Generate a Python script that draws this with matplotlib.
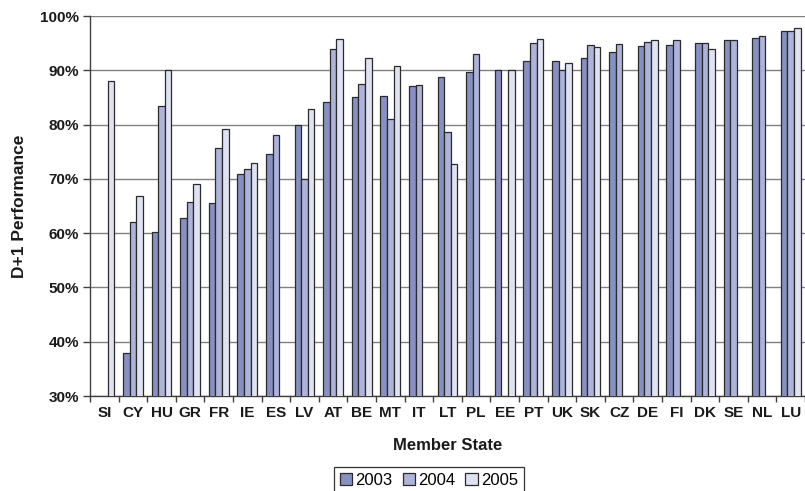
import numpy as np
import matplotlib
matplotlib.use("Agg")
import matplotlib.pyplot as plt
from matplotlib.ticker import FixedLocator, PercentFormatter

plt.rcParams["font.family"] = ["Liberation Sans", "DejaVu Sans"]

states = ["SI", "CY", "HU", "GR", "FR", "IE", "ES", "LV", "AT", "BE", "MT", "IT", "LT",
          "PL", "EE", "PT", "UK", "SK", "CZ", "DE", "FI", "DK", "SE", "NL", "LU"]

nan = np.nan
perf_2003 = [nan, 38.0, 60.3, 62.8, 65.6, 70.9, 74.5, 80.0, 84.1, 85.0, 85.2, 87.1, 88.8,
             89.7, 90.0, 91.7, 91.7, 92.3, 93.4, 94.5, 94.7, 95.1, 95.6, 96.0, 97.2]
perf_2004 = [nan, 62.0, 83.4, 65.8, 75.7, 71.9, 78.0, 70.0, 93.9, 87.4, 81.0, 87.2, 78.6,
             93.0, nan, 95.1, 90.1, 94.6, 94.8, 95.2, 95.6, 95.1, 95.5, 96.4, 97.3]
perf_2005 = [88.1, 66.9, 90.0, 69.0, 79.1, 72.9, nan, 82.8, 95.8, 92.3, 90.8, nan, 72.8,
             nan, 90.0, 95.8, 91.4, 94.2, nan, 95.6, nan, 93.9, nan, nan, 97.7]

years = ["2003", "2004", "2005"]
series = [perf_2003, perf_2004, perf_2005]
colors = ["#8790c2", "#adb3d9", "#dfe2f1"]

fig = plt.figure(figsize=(8.05, 4.91), dpi=100)
ax = fig.add_axes([90 / 805, 1 - 396 / 491, 1 - 90 / 805, (396 - 16) / 491])

x = np.arange(len(states))
w = 0.23
for j, (vals, col, yr) in enumerate(zip(series, colors, years)):
    ax.bar(x + (j - 1) * w, np.array(vals, dtype=float), width=w, color=col,
           edgecolor="#2a2a2a", linewidth=0.9, label=yr, zorder=3)

ax.set_xlim(-0.5, len(states) - 0.5)
ax.set_ylim(30, 100)
ax.yaxis.set_major_locator(FixedLocator(np.arange(30, 101, 10)))
ax.yaxis.set_major_formatter(PercentFormatter(decimals=0))
ax.grid(axis="y", color="#808080", linewidth=1.0, zorder=0)

ax.set_xticks(x)
ax.set_xticklabels(states)
ax.set_xticks(np.arange(-0.5, len(states) + 0.5, 1), minor=True)
ax.tick_params(axis="x", which="major", length=0, pad=7)
ax.tick_params(axis="x", which="minor", length=4, color="#404040", width=1)
ax.tick_params(axis="y", length=5, color="#404040", width=1, pad=3)
for lbl in ax.get_xticklabels() + ax.get_yticklabels():
    lbl.set_fontsize(11)
    lbl.set_fontweight("bold")
    lbl.set_color("#1a1a1a")

for side in ("top", "right"):
    ax.spines[side].set_visible(False)
for side in ("left", "bottom"):
    ax.spines[side].set_color("#404040")
    ax.spines[side].set_linewidth(1.0)

ax.set_xlabel("Member State", fontsize=12, fontweight="bold", labelpad=13, color="#1a1a1a")
ax.set_ylabel("D+1 Performance", fontsize=12.5, fontweight="bold", labelpad=9, color="#1a1a1a")

leg = fig.legend(loc="upper center", bbox_to_anchor=(429 / 805, 1 - 467 / 491), ncol=3,
                 frameon=True, fancybox=False, edgecolor="#000000", fontsize=12,
                 handlelength=0.75, handleheight=0.75, handletextpad=0.2,
                 columnspacing=0.6, borderpad=0.35, borderaxespad=0)
leg.get_frame().set_linewidth(0.9)

fig.savefig("out.png", dpi=100)
